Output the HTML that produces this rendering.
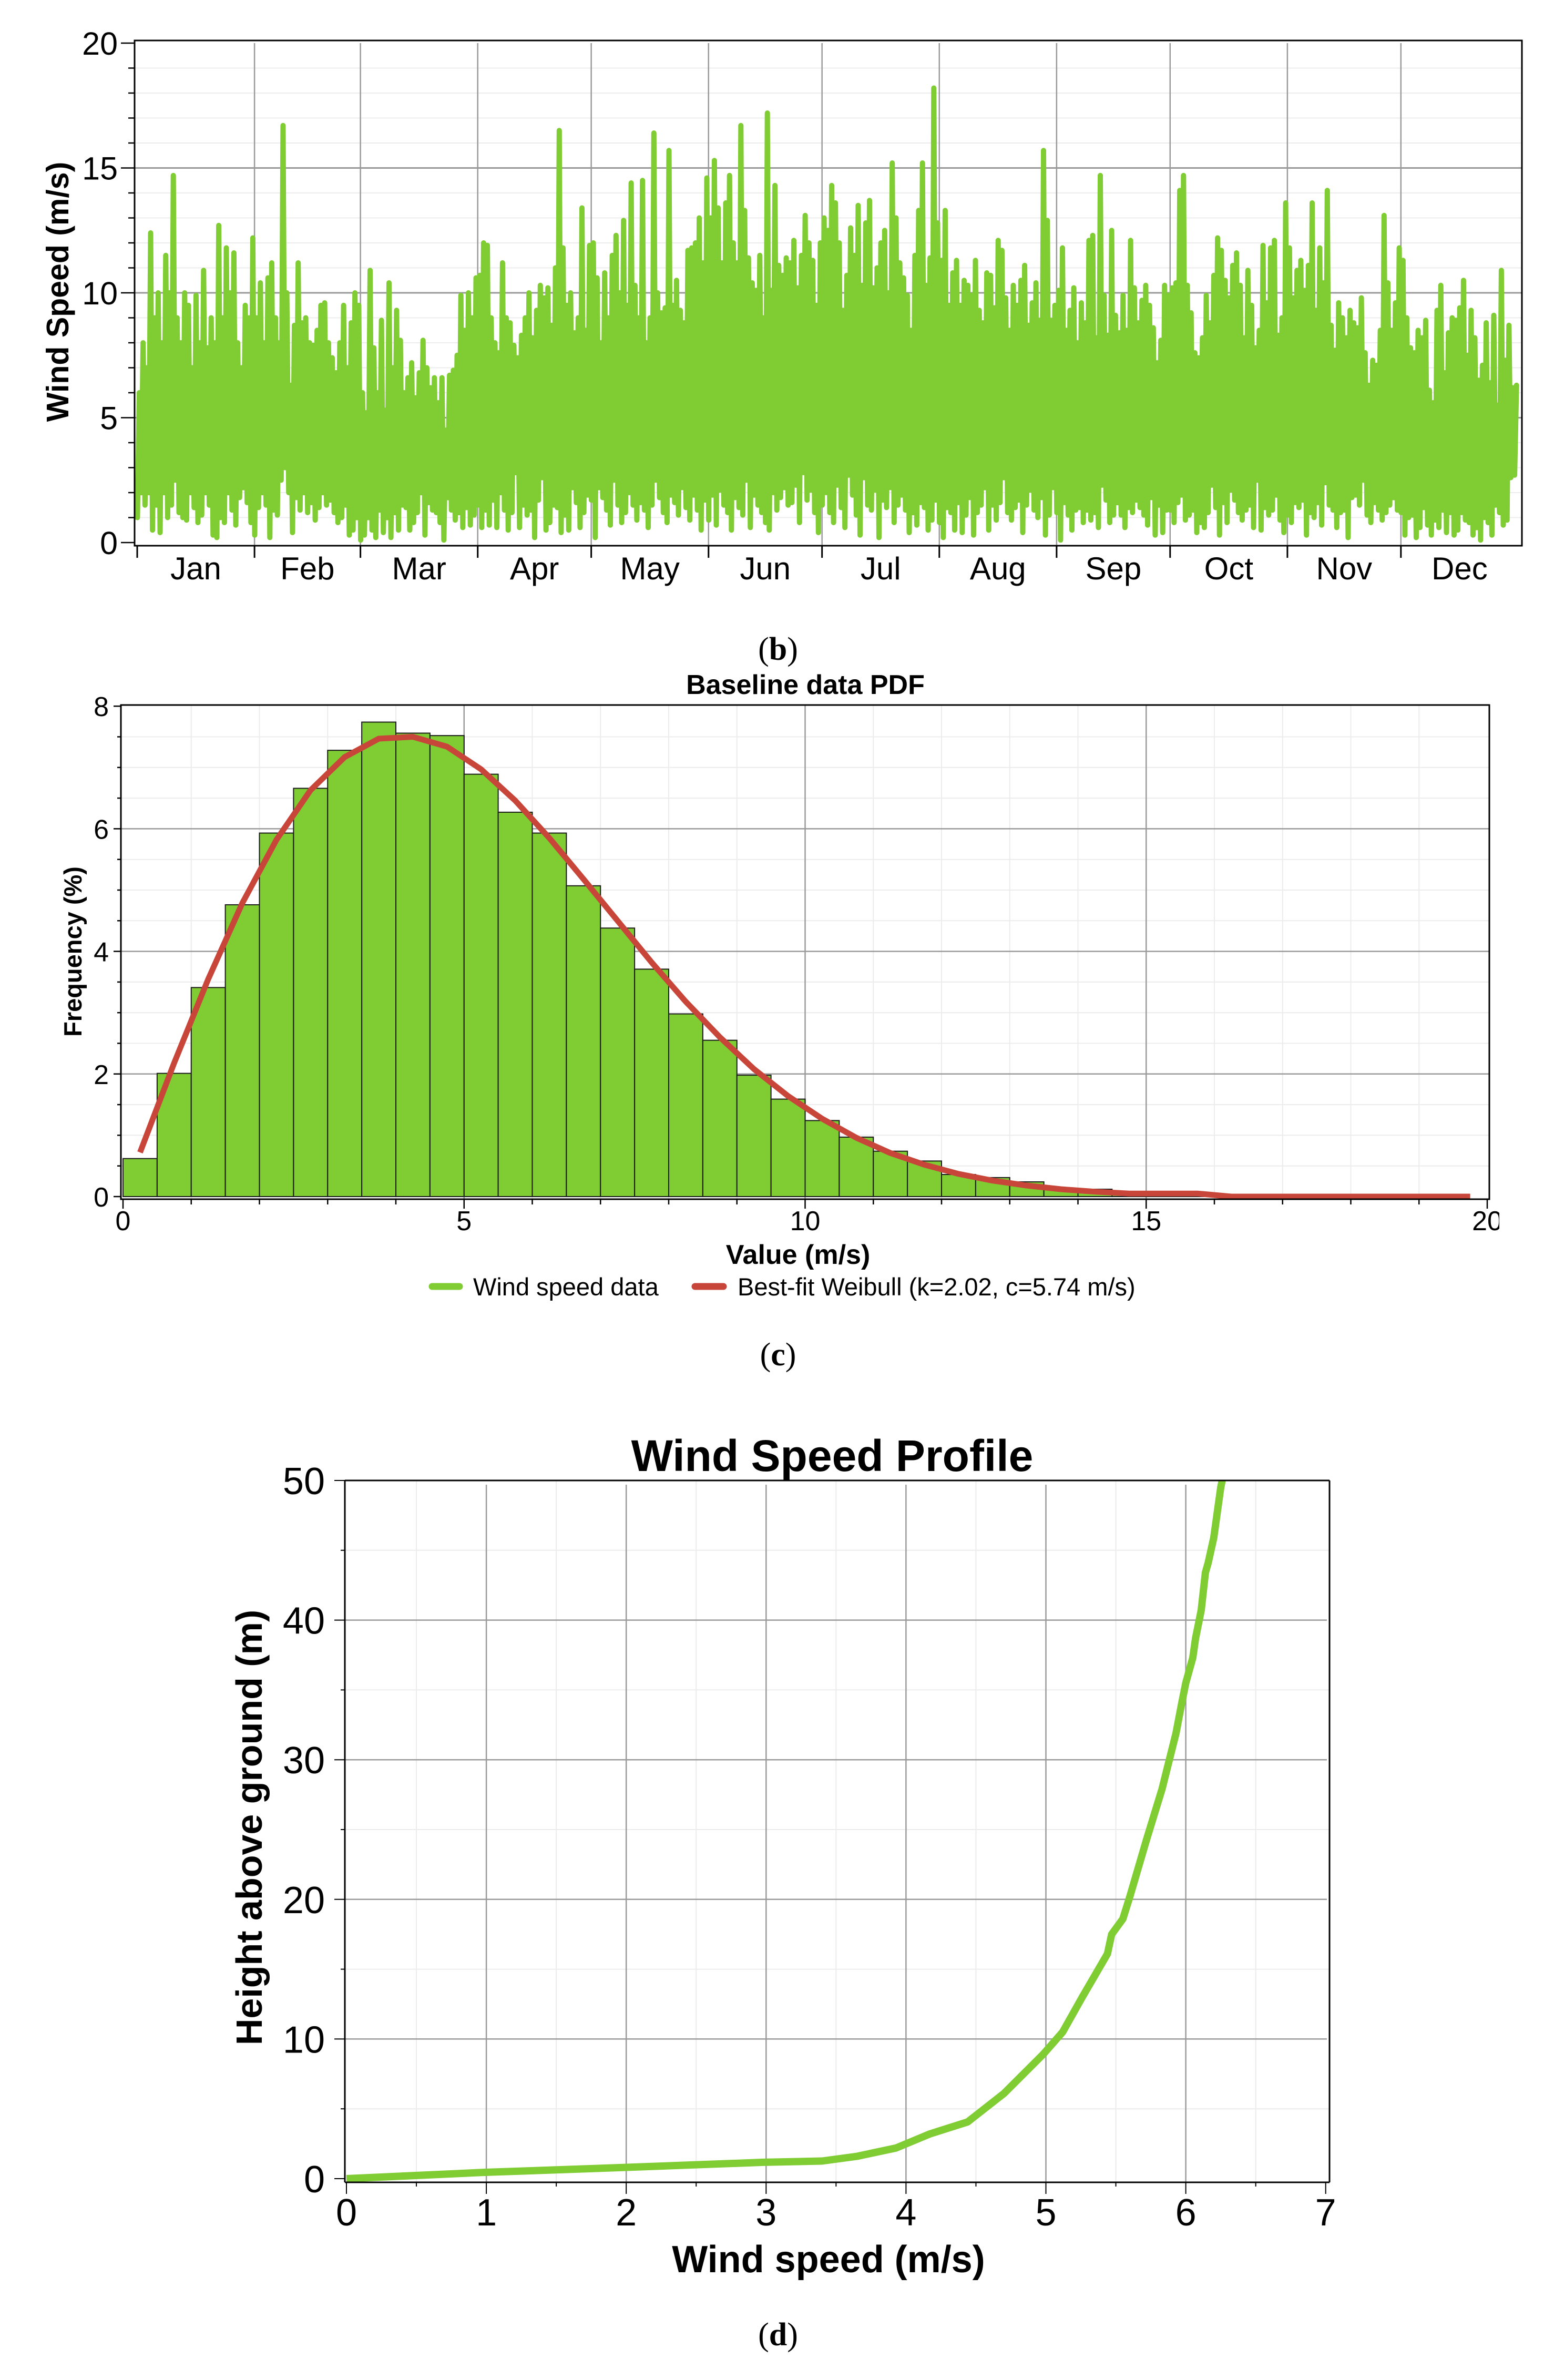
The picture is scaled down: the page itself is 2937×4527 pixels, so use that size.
<!DOCTYPE html>
<html><head><meta charset="utf-8"><style>
html,body{margin:0;padding:0;background:#fff;}
svg{display:block;font-family:"Liberation Sans",Arial,sans-serif;}
</style></head><body>
<svg id="fig" xmlns="http://www.w3.org/2000/svg" width="2937" height="4527" viewBox="0 0 2937 4527">
<defs><clipPath id="clipR"><rect x="0" y="0" width="2852" height="4527"/></clipPath></defs>
<rect x="0" y="0" width="2937" height="4527" fill="#fff"/>
<g id="pb"></g>
<g id="pc"></g>
<g id="pd"></g>
<text x="1480" y="1255" text-anchor="middle" font-family="Liberation Serif, serif" font-size="62">(<tspan font-weight="bold">b</tspan>)</text>
<text x="1480" y="2597" text-anchor="middle" font-family="Liberation Serif, serif" font-size="62">(<tspan font-weight="bold">c</tspan>)</text>
<text x="1480" y="4461" text-anchor="middle" font-family="Liberation Serif, serif" font-size="62">(<tspan font-weight="bold">d</tspan>)</text>
</svg>
<script>
// ---------- Panel (b) data: daily high / low wind speed (m/s) ----------
const months = ["Jan","Feb","Mar","Apr","May","Jun","Jul","Aug","Sep","Oct","Nov","Dec"];
const monthDays = [31,28,31,30,31,30,31,31,30,31,30,31];
const dailyHigh = [
6,8,7,12.4,9,10,8,11.5,10,14.7,9,8,10,9.5,7,9.9,8,10.9,7.8,9,8,12.7,9,11.8,10,11.6,8,7,9.5,9,12.2,
9,10.4,8,10.6,11.2,9,8,16.7,10,6.3,8.7,11.2,8.8,9,8,7.9,8.5,9.5,9.6,8,7.4,6.8,8,9.5,7,8.8,10,9.5,
6,5.2,10.9,7.8,6,8.9,5.3,10.4,7,9.3,8.1,6,6.6,7.2,5.8,6.8,8.1,7,6.2,6.6,5.6,6.6,4.5,6.7,6.9,7.5,9.9,8.5,10,9,10.6,
10.7,12,11.9,9,8,7.6,11.2,9,8.8,7.9,7.4,8.3,9,10,8.2,9.3,10.3,9.8,10.2,8.7,11,16.5,11.8,9.5,10,8.4,9,13.4,8.5,11.9,
12,10.6,8,10.8,9,11.5,12.3,10,12.9,9.5,14.4,10.3,9,14.5,8,9,16.4,10,9.2,9.4,15.7,9.5,10.5,9.3,8.8,11.7,11.8,12,13,11.2,14.6,
13,15.3,13.4,11.2,13.6,14.7,12,11.2,16.7,13.3,11.4,10.4,10.1,11.5,9,17.2,10.1,14.3,11.1,10.7,11.4,11.2,12.1,10.2,11.5,13.1,12,11.3,9.5,12,
13,12.5,14.3,13.6,12,9.3,10.7,12.6,11.5,13.5,10.3,12.8,13.7,10.2,11,12,12.5,10,15.2,13,11.2,10.6,9.9,8.5,11.5,13.3,15.2,10.3,11.4,18.2,12.8,
11.3,13.3,9.5,10.8,11.3,9.5,10.5,10.3,9.9,11.3,9.3,8.8,10.8,10.7,9.4,12.1,11.7,9.8,8.5,10.3,9.5,10.5,11.1,8.7,9.6,10.4,8.9,15.7,12.9,8.9,9.5,
10.1,11.8,8.5,9.3,10.2,8,9.6,8.8,12.1,12.3,8.2,14.7,9.9,8.3,12.5,9.1,8.4,9.9,8.5,12.1,10.2,8.8,9.7,10.3,9.5,8.6,7.2,8.1,10.3,9.9,
10.2,10.4,14.1,14.7,10.3,9.2,7.6,7.4,8.2,9.9,8.8,10.7,12.2,11.7,10.5,9.8,11.1,11.6,10.3,8.2,10.9,9.5,7.8,8.5,11.9,9.6,11.8,12.1,8.3,9,13.6,
11.8,9.8,10.9,11.3,10.1,11.1,13.6,9.3,11.8,10.4,14.1,8.7,7.7,9.6,9,8.2,9.3,8.8,8.6,9.8,7.6,6.3,7.3,7.1,8.5,13.1,10.4,8.5,9.6,11.8,
11.3,9,7.8,7.6,8.5,8.2,8.9,6.1,5.6,9.3,10.3,6.8,8.4,9,8.9,9.4,10.5,7.5,9.3,8.2,6.5,7.1,8.8,6.4,9.1,5.5,10.9,7.3,8.7,6.2,6.3];
const dailyLow = [
1,2,1.5,2,0.5,1.5,0.4,2,1,1.5,2.5,1.2,1,0.9,2,1.4,0.8,1.1,2,1.5,0.3,0.2,1,0.8,2,1.3,0.7,1.8,2.2,1.6,0.8,
0.3,1.4,2,1.5,0.2,1.3,1.1,2.5,3,2,0.4,1.8,1.3,2,1.2,1.6,0.9,1.4,2,1.5,1.7,1.2,0.8,1.0,1.5,0.3,0.5,1.0,
0.1,0.3,1,0.5,0.2,1.3,0.4,1,0.2,1.2,0.5,1.5,1.4,0.5,0.8,1.2,2,0.3,1.6,1.3,1.2,0.8,0.1,1.8,1.3,0.9,1.2,0.6,1.4,0.7,1.1,
1.5,0.6,1.3,0.7,1.7,0.6,2,1.3,0.5,1.2,2.8,0.6,1.5,1.1,1.3,0.2,1.7,2.6,0.5,0.8,1.5,1.4,0.4,1.1,0.5,2.2,1.6,0.6,1.2,1.9,
1.7,0.2,2.2,1.8,1.3,0.7,2.5,1.5,0.8,1.2,2,1.5,0.9,1.6,1.3,0.6,1.5,2.5,1.8,1.2,0.8,1.9,1.6,1.1,2.2,1.4,0.9,1.9,1.3,0.5,1.7,
0.9,1.9,0.7,2.1,1.5,1.2,0.5,1.8,1.4,1.1,2.5,0.6,1.9,1.5,1.2,0.8,0.5,2,1.3,1.8,2.2,1.5,1.6,2.3,0.8,2.8,1.7,2.1,1.2,0.4,
1.5,2,1.2,0.8,2.3,1.4,0.6,2.7,1.9,1.1,0.3,2.6,1.5,1.3,2.1,0.2,1.7,1.4,2.2,0.8,1.5,1.9,1.3,0.4,1.2,0.7,1.6,1.4,0.5,0.9,1.7,
0.8,0.2,1.4,1.2,0.5,1.6,0.4,1.1,1.8,0.3,1.2,1.5,2.2,0.5,1.5,0.9,1.6,2.6,1.2,0.9,1.4,1.7,0.4,1.5,2.1,1.3,1,1.8,0.3,1.1,2.2,
1.2,0.1,1.6,1.1,0.5,1.3,1.4,0.8,1.3,0.9,1.2,0.6,2.3,1.7,0.8,1.1,1.6,1.1,0.6,1.4,1.2,1.7,1.4,1.1,0.7,1.8,0.3,1.5,0.4,1.3,
1.3,0.8,1.6,1.9,0.9,1.1,1.3,0.4,0.8,0.6,1.2,2.3,1.4,0.3,1.6,0.8,2.1,1.7,1.2,0.9,1.3,1.5,0.6,2.5,0.5,1.4,1.1,1.3,1.9,0.9,0.4,
1.1,0.8,1.6,1.4,1.7,0.3,1.2,1,1.6,0.7,2.4,1.5,1.3,0.6,1.2,1.3,0.2,1.8,1.9,1.5,2.5,1.1,0.8,1.6,1.3,0.9,1.2,1.5,1.8,1.3,
1.2,0.3,1,1.1,0.2,0.6,1.4,0.7,0.3,0.9,0.6,1.3,0.4,1.2,0.3,0.5,1.2,0.9,0.8,0.3,0.6,0.1,1,0.8,0.3,1.5,1.2,0.7,0.9,2.6,2.7];
const bYTicks = [0,5,10,15,20];

// ---------- Panel (c) data ----------
const binStarts = [0,0.5,1,1.5,2,2.5,3,3.5,4,4.5,5,5.5,6,6.5,7,7.5,8,8.5,9,9.5,10,10.5,11,11.5,12,12.5,13,13.5,14,14.5,15,15.5];
const binFreq = [0.62,2.01,3.41,4.76,5.93,6.66,7.28,7.74,7.56,7.52,6.89,6.27,5.93,5.07,4.38,3.71,2.98,2.55,1.98,1.59,1.24,0.97,0.74,0.58,0.36,0.31,0.24,0.13,0.12,0.05,0.03,0.02];
const weibullX = [0.25,0.75,1.25,1.75,2.25,2.75,3.25,3.75,4.25,4.75,5.25,5.75,6.25,6.75,7.25,7.75,8.25,8.75,9.25,9.75,10.25,10.75,11.25,11.75,12.25,12.75,13.25,13.75,14.25,14.75,15.25,15.75,16.25,16.75,17.25,17.75,18.25,18.75,19.25,19.75];
const weibullY = [0.72,2.18,3.55,4.79,5.82,6.63,7.17,7.47,7.5,7.34,6.97,6.46,5.85,5.18,4.5,3.82,3.18,2.6,2.08,1.64,1.27,0.96,0.71,0.52,0.37,0.26,0.18,0.12,0.08,0.05,0.05,0.05,0,0,0,0,0,0,0,0];
const cXTicks = [0,5,10,15,20];
const cYTicks = [0,2,4,6,8];

// ---------- Panel (d) data ----------
const profSpeed = [0,0.99,1.98,2.98,3.4,3.65,3.93,4.17,4.44,4.70,4.98,5.12,5.26,5.44,5.47,5.55,5.60,5.72,5.83,5.93,5.97,6.00,6.05,6.07,6.11,6.14,6.16,6.20,6.25,6.26];
const profHeight = [0,0.45,0.8,1.17,1.26,1.6,2.2,3.2,4.06,6.1,8.9,10.5,13.0,16.1,17.5,18.6,20.2,24.3,27.9,31.9,34,35.5,37.3,38.7,40.7,43.4,44.1,45.9,49.5,50];
const dXTicks = [0,1,2,3,4,5,6,7];
const dYTicks = [0,10,20,30,40,50];

const NS="http://www.w3.org/2000/svg";
function mk(parent, tag, attrs, txt){
  const e=document.createElementNS(NS,tag);
  for(const k in attrs) e.setAttribute(k, attrs[k]);
  if(txt!==undefined) e.textContent=txt;
  parent.appendChild(e);
  return e;
}
const GREEN="#7fcc33", RED="#c8453a", MAJ="#9a9a9a", MIN="#ececec";

// ================= Panel (b) =================
(function(){
  const g=document.getElementById('pb');
  const L=256,R=2895,T=77,B=1038;
  const x0=261, dayW=7.197;
  const bx=d=>x0+d*dayW;
  const by=v=>1032-v*47.5;
  let el;
  // minor horizontal grid
  for(let v=1;v<20;v++){ if(v%5===0) continue;
    el=mk(g,'line',{x1:L,x2:R,y1:by(v),y2:by(v),stroke:MIN,'stroke-width':2});
    
    
  }
  // month boundaries
  let cum=[0]; for(let i=0;i<12;i++) cum.push(cum[i]+monthDays[i]);
  for(let i=1;i<12;i++){
    el=mk(g,'line',{x1:bx(cum[i]),x2:bx(cum[i]),y1:T+5,y2:B,stroke:MAJ,'stroke-width':2.5});
    
    
  }
  [5,10,15].forEach(v=>{
    el=mk(g,'line',{x1:L,x2:R,y1:by(v),y2:by(v),stroke:MAJ,'stroke-width':3});
    
    
  });
  // data zigzag
  let pts=[];
  for(let i=0;i<dailyHigh.length;i++){
    pts.push(bx(i+0.05).toFixed(1)+','+by(dailyLow[i]).toFixed(1));
    pts.push(bx(i+0.55).toFixed(1)+','+by(dailyHigh[i]).toFixed(1));
  }
  el=mk(g,'polyline',{points:pts.join(' '),fill:'none',stroke:GREEN,'stroke-width':10,'stroke-linejoin':'round','stroke-linecap':'round'});
  
  
  // frame
  el=mk(g,'rect',{x:L,y:T,width:R-L,height:B-T,fill:'none',stroke:'#000','stroke-width':3});
  
  
  // y ticks
  for(let v=0;v<=20;v++){
    el=mk(g,'line',{x1:v%5===0?230:244,x2:L,y1:by(v),y2:by(v),stroke:'#000','stroke-width':2.5});
    
    
  }
  bYTicks.forEach(v=>{
    el=mk(g,'text',{x:224,y:by(v)+22,'text-anchor':'end','font-size':61},String(v));
    
    
  });
  // x ticks & month labels
  for(let i=0;i<=12;i++){
    if(i<12){
      el=mk(g,'line',{x1:bx(cum[i]),x2:bx(cum[i]),y1:B,y2:B+23,stroke:'#000','stroke-width':3});
      
      
    }
  }
  months.forEach((m,i)=>{
    el=mk(g,'text',{x:bx((cum[i]+cum[i+1])/2),y:1102,'text-anchor':'middle','font-size':60},m);
    
    
  });
  el=mk(g,'text',{x:0,y:0,'text-anchor':'middle','font-size':59,'font-weight':'bold',transform:'translate(130,555) rotate(-90)'},'Wind Speed (m/s)');
  
  
})();

// ================= Panel (c) =================
(function(){
  const g=document.getElementById('pc');
  const L=230,R=2833,T=1341,B=2281;
  const cx=v=>234+v*129.75;
  const cy=f=>2276-f*116.6;
  let el;
  for(let v=1;v<20;v++){ if(v%5===0) continue;
    el=mk(g,'line',{x1:cx(v),x2:cx(v),y1:T,y2:B,stroke:MIN,'stroke-width':2});
    
    
  }
  for(let f=0.5;f<8;f+=0.5){ if(f%2===0) continue;
    el=mk(g,'line',{x1:L,x2:R,y1:cy(f),y2:cy(f),stroke:MIN,'stroke-width':2});
    
    
  }
  [5,10,15].forEach(v=>{
    el=mk(g,'line',{x1:cx(v),x2:cx(v),y1:T,y2:B,stroke:MAJ,'stroke-width':2.5});
    
    
  });
  [2,4,6].forEach(f=>{
    el=mk(g,'line',{x1:L,x2:R,y1:cy(f),y2:cy(f),stroke:MAJ,'stroke-width':2.5});
    
    
  });
  binStarts.forEach((s,i)=>{
    const y=cy(binFreq[i]);
    el=mk(g,'rect',{x:cx(s),y:y,width:cx(s+0.5)-cx(s),height:cy(0)-y,fill:GREEN,stroke:'#1a1a1a','stroke-width':2});
    
    
  });
  let pts=weibullX.map((x,i)=>cx(x).toFixed(1)+','+cy(weibullY[i]).toFixed(1)).join(' ');
  el=mk(g,'polyline',{points:pts,fill:'none',stroke:RED,'stroke-width':11,'stroke-linejoin':'round'});
  
  
  el=mk(g,'rect',{x:L,y:T,width:R-L,height:B-T,fill:'none',stroke:'#000','stroke-width':3});
  
  
  for(let v=0;v<=20;v++){
    el=mk(g,'line',{x1:cx(v),x2:cx(v),y1:B,y2:B+(v%5===0?18:10),stroke:'#000','stroke-width':2.5});
    
    
  }
  for(let f=0;f<=8;f+=0.5){
    el=mk(g,'line',{x1:L-(f%2===0?14:7),x2:L,y1:cy(f),y2:cy(f),stroke:'#000','stroke-width':2.5});
    
    
  }
  cXTicks.forEach(v=>{
    el=mk(g,'text',{x:cx(v),y:2340,'text-anchor':'middle','font-size':52,'clip-path':'url(#clipR)'},String(v));
    
    
  });
  cYTicks.forEach(f=>{
    el=mk(g,'text',{x:207,y:cy(f)+19,'text-anchor':'end','font-size':52},String(f));
    
    
  });
  el=mk(g,'text',{x:1532,y:1320,'text-anchor':'middle','font-size':52,'font-weight':'bold'},'Baseline data PDF');
  
  
  el=mk(g,'text',{x:1518,y:2404,'text-anchor':'middle','font-size':52,'font-weight':'bold'},'Value (m/s)');
  
  
  el=mk(g,'text',{x:0,y:0,'text-anchor':'middle','font-size':47,'font-weight':'bold',transform:'translate(155,1810) rotate(-90)'},'Frequency (%)');
  
  
  el=mk(g,'line',{x1:822,x2:874,y1:2447,y2:2447,stroke:GREEN,'stroke-width':13,'stroke-linecap':'round'});
  
  
  el=mk(g,'text',{x:900,y:2464,'font-size':47},'Wind speed data');
  
  
  el=mk(g,'line',{x1:1322,x2:1376,y1:2447,y2:2447,stroke:RED,'stroke-width':13,'stroke-linecap':'round'});
  
  
  el=mk(g,'text',{x:1403,y:2464,'font-size':47},'Best-fit Weibull (k=2.02, c=5.74 m/s)');
  
  
})();

// ================= Panel (d) =================
(function(){
  const g=document.getElementById('pd');
  const L=656,R=2529,T=2816,B=4151;
  const dx=s=>659+s*266.1;
  const dy=h=>4144-h*26.56;
  let el;
  for(let s=0.5;s<7;s+=1){
    el=mk(g,'line',{x1:dx(s),x2:dx(s),y1:T,y2:B,stroke:MIN,'stroke-width':2});
    
    
  }
  for(let h=5;h<50;h+=10){
    el=mk(g,'line',{x1:L,x2:R,y1:dy(h),y2:dy(h),stroke:MIN,'stroke-width':2});
    
    
  }
  for(let s=1;s<7;s++){
    el=mk(g,'line',{x1:dx(s),x2:dx(s),y1:T+8,y2:B,stroke:MAJ,'stroke-width':2.5});
    
    
  }
  for(let h=10;h<50;h+=10){
    el=mk(g,'line',{x1:L,x2:R-5,y1:dy(h),y2:dy(h),stroke:MAJ,'stroke-width':2.5});
    
    
  }
  let pts=profSpeed.map((s,i)=>dx(s).toFixed(1)+','+dy(profHeight[i]).toFixed(1)).join(' ');
  el=mk(g,'polyline',{points:pts,fill:'none',stroke:GREEN,'stroke-width':14,'stroke-linejoin':'round'});
  
  
  el=mk(g,'line',{x1:L,x2:R,y1:T,y2:T,stroke:'#000','stroke-width':3});
  
  
  el=mk(g,'line',{x1:R,x2:R,y1:T,y2:B,stroke:'#000','stroke-width':3});
  
  
  el=mk(g,'line',{x1:L,x2:R,y1:B,y2:B,stroke:'#000','stroke-width':3});
  
  
  el=mk(g,'line',{x1:L,x2:L,y1:T,y2:B,stroke:'#000','stroke-width':3});
  
  
  for(let s=0;s<=7;s+=0.5){
    el=mk(g,'line',{x1:dx(s),x2:dx(s),y1:B,y2:B+(s%1===0?22:8),stroke:'#000','stroke-width':2});
    
    
  }
  for(let h=0;h<=50;h+=5){
    el=mk(g,'line',{x1:L-(h%10===0?20:8),x2:L,y1:dy(h),y2:dy(h),stroke:'#000','stroke-width':2});
    
    
  }
  dXTicks.forEach(s=>{
    el=mk(g,'text',{x:dx(s),y:4233,'text-anchor':'middle','font-size':72},String(s));
    
    
  });
  dYTicks.forEach(h=>{
    el=mk(g,'text',{x:618,y:dy(h)+26,'text-anchor':'end','font-size':72},String(h));
    
    
  });
  el=mk(g,'text',{x:1583,y:2798,'text-anchor':'middle','font-size':84,'font-weight':'bold'},'Wind Speed Profile');
  
  
  el=mk(g,'text',{x:1576,y:4322,'text-anchor':'middle','font-size':72,'font-weight':'bold'},'Wind speed (m/s)');
  
  
  el=mk(g,'text',{x:0,y:0,'text-anchor':'middle','font-size':70,'font-weight':'bold',transform:'translate(498,3476) rotate(-90)'},'Height above ground (m)');
  
  
})();
</script>
</body></html>
